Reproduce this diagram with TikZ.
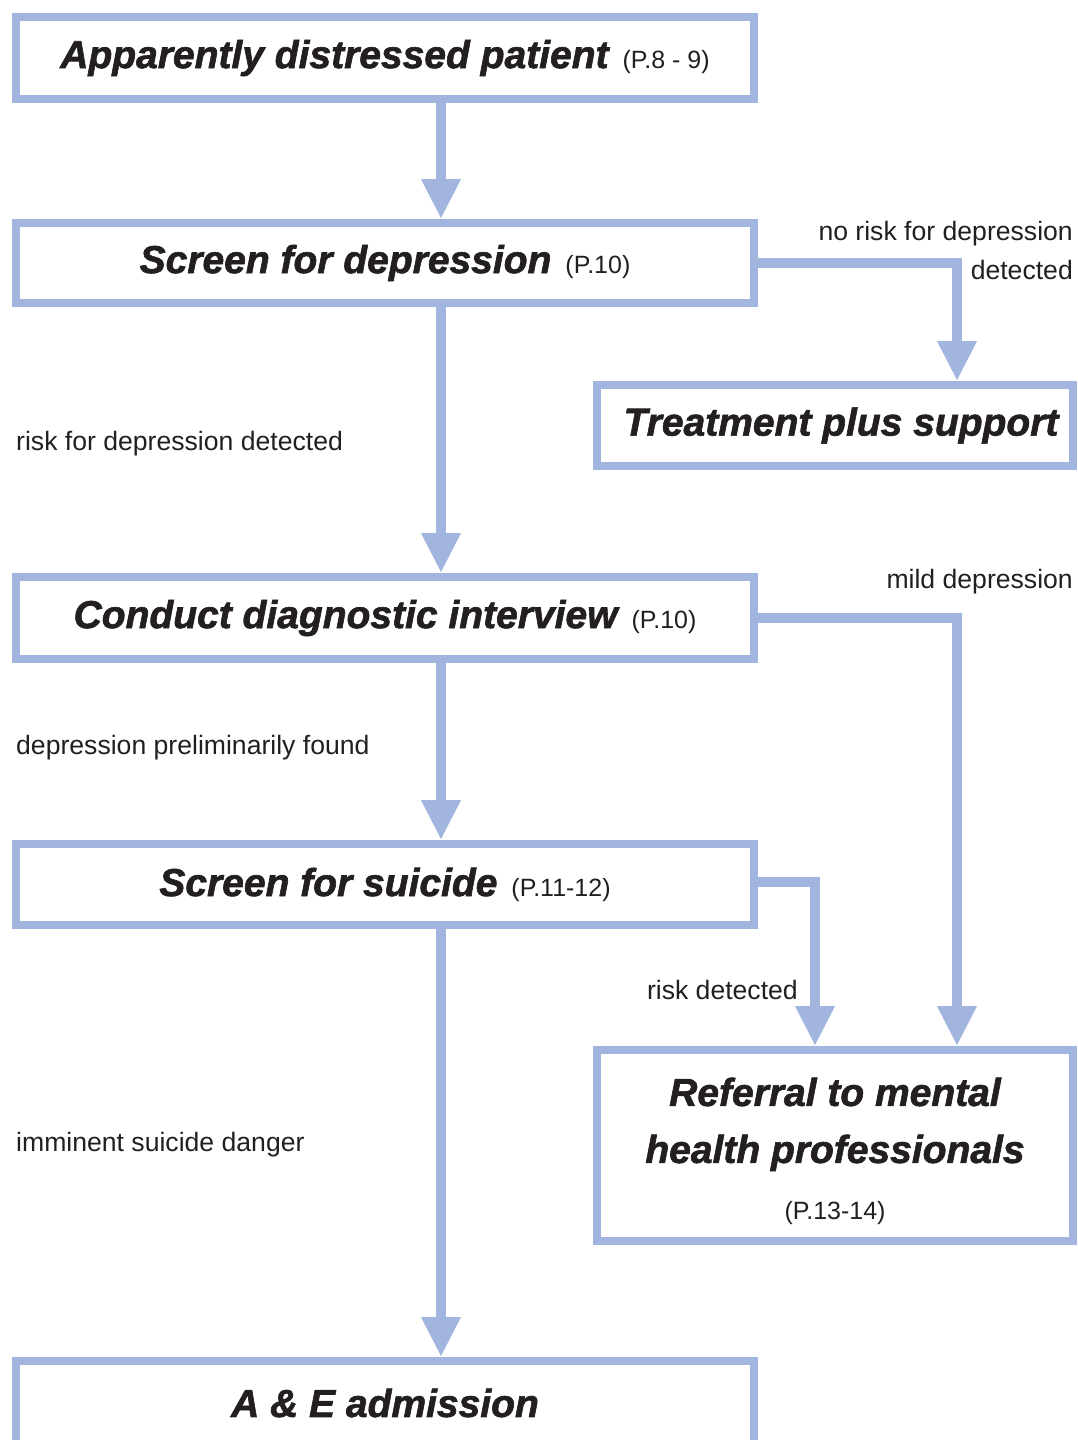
\documentclass[tikz,border=0pt]{standalone}
\usetikzlibrary{arrows.meta, positioning}
\usepackage{xcolor}
\usepackage{fontspec}
\setmainfont{Liberation Sans}
\newfontfamily\heavyfont{Liberation Sans}[BoldItalicFeatures={FakeBold=1.6}]
\definecolor{flowblue}{RGB}{161,181,222}
\definecolor{ink}{RGB}{35,31,32}
\def\headfont{\fontsize{39}{57}\heavyfont\bfseries\itshape}
\def\pagefont{\fontsize{25}{30}\selectfont\normalfont}
\def\pagegap{\hspace{14pt}}

\begin{document}
\begin{tikzpicture}[x=1pt, y=-1pt, text=ink]
    \tikzstyle{stepbox}=[draw=flowblue, line width=8pt, rectangle, minimum width=738pt, minimum height=82pt, inner sep=0pt, font=\headfont, align=center]
    \tikzstyle{sidebox}=[stepbox, minimum width=476pt]
    \tikzstyle{flow}=[draw=flowblue, line width=10pt, -{Triangle[length=40pt, width=37pt]}]
    \tikzstyle{lbl}=[font=\fontsize{26.6}{31}\selectfont, inner sep=0pt]

    \clip (0,0) rectangle (1078,1440);

    \node[stepbox] (patient) at (385,58) {Apparently distressed patient\pagegap{\pagefont (P.8 - 9)}};
    \node[stepbox, minimum height=80pt] (screendep) at (385,263) {Screen for depression\pagegap{\pagefont (P.10)}};
    \node[sidebox, minimum height=81pt] (treat) at (835,425.5) {\hspace{12pt}Treatment plus support};
    \node[stepbox] (interview) at (385,618) {Conduct diagnostic interview\pagegap{\pagefont (P.10)}};
    \node[stepbox, minimum height=81pt] (screensui) at (385,884.5) {Screen for suicide\pagegap{\pagefont (P.11-12)}};
    \node[sidebox, minimum height=191pt] (referral) at (835,1145.5) {\rule{0pt}{40pt}Referral to mental\\health professionals\\{\pagefont (P.13-14)}};
    \node[stepbox, minimum height=84pt] (admission) at (385,1403) {A \& E admission};

%    branch labels
    \node[lbl, anchor=base east] (norisk) at (1073,240) {no risk for depression};
    \node[lbl, anchor=base east] (noriskb) at (1073,279) {detected};
    \node[lbl, anchor=base west] (riskdep) at (16,450) {risk for depression detected};
    \node[lbl, anchor=base east] (mild) at (1073,588) {mild depression};
    \node[lbl, anchor=base west] (prelim) at (16,754) {depression preliminarily found};
    \node[lbl, anchor=base east] (riskdet) at (798,999) {risk detected};
    \node[lbl, anchor=base west] (imminent) at (16,1151) {imminent suicide danger};

    \coordinate (spine) at (441,0);
    \coordinate (rail) at (957,0);
    \coordinate (railin) at (815,0);

    \draw[flow] (patient.south -| spine) -- (screendep.north -| spine);
    \draw[flow] (screendep.south -| spine) -- (interview.north -| spine);
    \draw[flow] (interview.south -| spine) -- (screensui.north -| spine);
    \draw[flow] (screensui.south -| spine) -- (admission.north -| spine);

    \draw[flow] (screendep.east) -| (treat.north -| rail);
    \draw[flow] (interview.east) -| (referral.north -| rail);
    \draw[flow] ([yshift=3pt]screensui.east) -| (referral.north -| railin);
\end{tikzpicture}
\end{document}
